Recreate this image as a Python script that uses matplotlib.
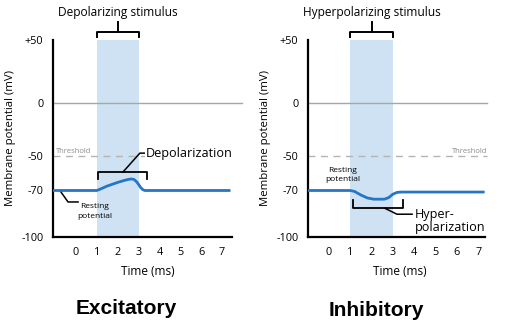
import numpy as np
import matplotlib
matplotlib.use("Agg")
import matplotlib.pyplot as plt
from matplotlib.scale import FuncScale

plt.rcParams['font.family'] = ['Open Sans', 'DejaVu Sans']

# ---- data -------------------------------------------------------------
y_ticks = [50, 0, -50, -70, -100]
y_tick_labels = ["+50", "0", "-50", "-70", "-100"]
x_ticks = [0, 1, 2, 3, 4, 5, 6, 7]
threshold = -50
resting = -70
stim_start, stim_end = 1, 3

exc_t = [-1.1, 1.0, 1.2, 1.5, 2.0, 2.3, 2.5, 2.65, 2.78, 2.9, 3.0, 3.1, 3.2, 3.3, 7.4]
exc_v = [-70, -70, -69.0, -67.4, -65.3, -64.2, -63.6, -63.3, -63.6, -64.9, -66.5,
         -68.3, -69.5, -70, -70]

inh_t = [-1.0, 1.0, 1.2, 1.5, 1.8, 2.1, 2.6, 2.8, 3.0, 3.2, 3.4, 7.3]
inh_v = [-70, -70, -70.6, -72.9, -74.8, -75.6, -75.6, -74.6, -72.4, -71.2, -71, -71]

# ---- schematic (piecewise linear) voltage axis ---------------------------
knot_v = np.array([-100, -70, -50, 0, 50], float)
knot_p = np.array([0, 46.5, 81, 134, 197], float)
lo_slope = 46.5 / 30
hi_slope = 63 / 50


def v_to_p(v):
    v = np.asarray(v, float)
    p = np.interp(v, knot_v, knot_p)
    p = np.where(v > 50, 197 + (v - 50) * hi_slope, p)
    p = np.where(v < -100, (v + 100) * lo_slope, p)
    return p


def p_to_v(p):
    p = np.asarray(p, float)
    v = np.interp(p, knot_p, knot_v)
    v = np.where(p > 197, 50 + (p - 197) / hi_slope, v)
    v = np.where(p < 0, -100 + p / lo_slope, v)
    return v


W, H = 517, 324
fig = plt.figure(figsize=(W / 100, H / 100), dpi=100)

blue = "#2676c6"
shade = "#cfe2f3"
grey_line = "#a6a6a6"
dash_grey = "#b3b3b3"


def panel(rect_px, xlim, t, v, axis_end, zero_end, stim_title):
    x0, x1, ytop, ybot = rect_px
    ax = fig.add_axes([x0 / W, (H - ybot) / H, (x1 - x0) / W, (ybot - ytop) / H])
    ax.set_yscale(FuncScale(ax, (v_to_p, p_to_v)))
    ax.set_xlim(*xlim)
    ax.set_ylim(-100, 50)
    for s in ("top", "right"):
        ax.spines[s].set_visible(False)
    ax.spines["left"].set_linewidth(1.6)
    ax.spines["bottom"].set_linewidth(1.6)
    ax.spines["bottom"].set_bounds(xlim[0], axis_end)
    ax.set_yticks(y_ticks)
    ax.set_yticklabels(y_tick_labels)
    ax.set_xticks(x_ticks)
    ax.tick_params(length=0, labelsize=7.8, pad=7)
    ax.set_ylabel("Membrane potential (mV)", fontsize=8.2, labelpad=4)
    ax.set_xlabel("Time (ms)", fontsize=8.5, labelpad=5)

    # stimulus window
    ax.fill_between([stim_start, stim_end], -100, 50, color=shade, lw=0, zorder=0)
    # zero reference
    ax.plot([xlim[0], zero_end], [0, 0], color=grey_line, lw=1, zorder=1, clip_on=False)
    # membrane trace
    ax.plot(t, v, color=blue, lw=2, zorder=4, solid_capstyle="butt")

    # stimulus bracket and label
    ax.plot([stim_start, stim_start, stim_end, stim_end], [52.4, 56.3, 56.3, 52.4],
            color="black", lw=1.4, clip_on=False)
    mid = (stim_start + stim_end) / 2
    ax.plot([mid, mid], [56.3, 64.3], color="black", lw=1.4, clip_on=False)
    ax.text(mid, 71.5, stim_title, ha="center", va="center", fontsize=8.6)
    return ax


# ---- excitatory panel ---------------------------------------------------
axL = panel((53, 243, 40, 237), (-1.1, 8.0), exc_t, exc_v, 7.46, 7.94,
            "Depolarizing stimulus")
axL.plot([axL.get_xlim()[0], 7.46], [threshold, threshold], color=dash_grey, lw=1,
         dashes=(5, 4), zorder=2)
axL.text(-0.98, threshold + 0.6, "Threshold", fontsize=5.5, color="#8c8c8c",
         ha="left", va="bottom")
axL.plot([1.05, 1.05, 3.4, 3.4], [-63.3, -59.3, -59.3, -63.3], color="black", lw=1.3)
axL.plot([2.25, 3.06, 3.3], [-59.3, -47.3, -47.3], color="black", lw=1.1, clip_on=False)
axL.text(3.35, -47.5, "Depolarization", fontsize=9.1, ha="left", va="center",
         bbox=dict(facecolor="white", edgecolor="none", pad=0.5), zorder=5)
axL.plot([-0.77, -0.38, 0.1], [-70, -77.4, -77.4], color="black", lw=1.1)
axL.text(0.9, -83.6, "Resting\npotential", fontsize=6, ha="center", va="center",
         linespacing=1.55)

# ---- inhibitory panel -----------------------------------------------------
axR = panel((308, 491, 40, 237), (-0.98, 7.6), inh_t, inh_v, 7.33, 7.42,
            "Hyperpolarizing stimulus")
axR.plot([axR.get_xlim()[0], 7.42], [threshold, threshold], color=dash_grey, lw=1,
         dashes=(5, 4), zorder=2)
axR.text(7.42, threshold + 0.6, "Threshold", fontsize=5.5, color="#8c8c8c",
         ha="right", va="bottom")
axR.plot([1.13, 1.13, 3.47, 3.47], [-76.4, -81.5, -81.5, -76.4], color="black", lw=1.3)
axR.plot([2.63, 3.19, 3.9], [-81.5, -85.3, -85.3], color="black", lw=1.1)
axR.text(4.02, -85.3, "Hyper-", fontsize=9.1, ha="left", va="center")
axR.text(4.02, -93.6, "polarization", fontsize=9.1, ha="left", va="center")
axR.text(0.66, -61, "Resting\npotential", fontsize=6, ha="center", va="center",
         linespacing=1.55)

# ---- panel captions -------------------------------------------------------
fig.text(126 / W, 1 - 308 / H, "Excitatory", ha="center", va="center",
         fontsize=15, fontweight="bold", family="Liberation Sans")
fig.text(376 / W, 1 - 310 / H, "Inhibitory", ha="center", va="center",
         fontsize=15, fontweight="bold", family="Liberation Sans")

fig.savefig("out.png", dpi=100)
